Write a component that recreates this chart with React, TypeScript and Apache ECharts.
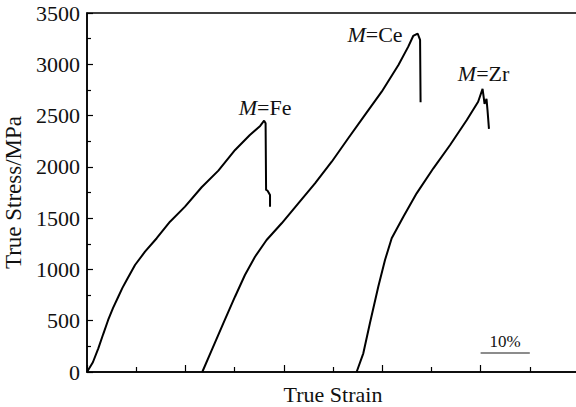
import React, { useEffect, useRef } from "react";
import * as echarts from "echarts";

// True strain (%) and true stress (MPa) for the three alloys; curves are offset along strain.
const feStrain = [0, 1.2, 2.3, 3.3, 4.3, 5.3, 6.36, 7.2, 8.07, 9.76, 11.79, 14.17, 16.87, 19.92, 23.3, 26.7, 30.1, 33.1, 35.2, 36.0, 36.3, 36.4, 36.7, 37.2, 37.2];
const feStress = [0, 95, 231, 370, 507, 625, 734, 820, 897, 1043, 1173, 1304, 1465, 1612, 1801, 1963, 2165, 2311, 2399, 2450, 2425, 1775, 1768, 1726, 1612];

const ceStrain = [23.43, 25.35, 27.7, 30.08, 32.1, 34.15, 36.5, 39.57, 42.95, 46.34, 49.74, 53.1, 56.5, 59.9, 63.3, 65.3, 66.3, 67.2, 67.7, 67.8];
const ceStress = [0, 214, 475, 734, 946, 1124, 1287, 1450, 1645, 1840, 2050, 2279, 2506, 2733, 2993, 3172, 3276, 3300, 3237, 2630];

const zrStrain = [54.8, 56.16, 57.5, 59.2, 60.57, 61.93, 64.3, 67.0, 70.4, 73.8, 77.2, 79.5, 80.4, 80.7, 80.8, 81.2, 81.4, 81.7];
const zrStress = [0, 182, 475, 832, 1092, 1304, 1514, 1742, 1986, 2213, 2457, 2635, 2760, 2652, 2613, 2662, 2555, 2370];

const alloyNames = ["Fe", "Ce", "Zr"];
const yTicks = { min: 0, max: 3500, interval: 500 };
const xRange = { min: 0, max: 100, interval: 20 };

// 10% strain scale bar
const scaleBarStart = 80;
const scaleBarLength = 10;
const scaleBarStress = 190;

const FONT = "Liberation Serif";

function buildSeries(
  name: string,
  strain: number[],
  stress: number[],
  labelCfg: Record<string, unknown>
) {
  return {
    name: `M=${name}`,
    type: "line",
    data: strain.map((s, i) => [s, stress[i]]),
    showSymbol: false,
    symbol: "none",
    smooth: false,
    lineStyle: { color: "#000", width: 2 },
    z: 3,
    // alloy tag placed at the peak stress of the curve
    markPoint: {
      silent: true,
      symbol: "circle",
      symbolSize: 0,
      data: [{ type: "max", valueDim: "y" }],
      label: {
        show: true,
        formatter: `{i|M}{r|=${name}}`,
        rich: {
          i: { fontFamily: FONT, fontSize: 22, fontStyle: "italic", color: "#111" },
          r: { fontFamily: FONT, fontSize: 22, color: "#111" },
        },
        ...labelCfg,
      },
    },
  };
}

export default function App() {
  const ref = useRef<HTMLDivElement>(null);

  useEffect(() => {
    if (!ref.current) return;
    const chart = echarts.init(ref.current, undefined, { renderer: "svg" });

    const option = {
      animation: false,
      backgroundColor: "#ffffff",
      grid: {
        left: 87,
        top: 13,
        width: 492,
        height: 359,
        outerBoundsMode: "none",
        containLabel: false,
        show: true,
        borderColor: "#000",
        borderWidth: 1.5,
        backgroundColor: "transparent",
      },
      xAxis: {
        type: "value",
        min: xRange.min,
        max: xRange.max,
        interval: xRange.interval,
        name: "True Strain",
        nameLocation: "middle",
        nameGap: 11,
        nameTextStyle: {
          fontFamily: FONT,
          fontSize: 22,
          lineHeight: 22,
          color: "#111",
          verticalAlign: "top",
        },
        axisLine: { show: true, lineStyle: { color: "#000", width: 1.5 } },
        axisTick: { show: true, inside: true, length: 7, lineStyle: { color: "#000", width: 1.2 } },
        minorTick: { show: true, splitNumber: 2, length: 5, lineStyle: { color: "#000", width: 1.2 } },
        axisLabel: { show: false },
        splitLine: { show: false },
      },
      yAxis: {
        type: "value",
        min: yTicks.min,
        max: yTicks.max,
        interval: yTicks.interval,
        name: "True Stress/MPa",
        nameLocation: "middle",
        nameRotate: 90,
        nameGap: 58,
        nameTextStyle: { fontFamily: FONT, fontSize: 23, color: "#111" },
        axisLine: { show: true, lineStyle: { color: "#000", width: 1.5 } },
        axisTick: { show: true, inside: true, length: 6, lineStyle: { color: "#000", width: 1.2 } },
        minorTick: { show: true, splitNumber: 2, length: 4, lineStyle: { color: "#000", width: 1.2 } },
        axisLabel: {
          fontFamily: FONT,
          fontSize: 22,
          color: "#111",
          margin: 7,
          formatter: (v: number) => String(v),
        },
        splitLine: { show: false },
      },
      series: [
        buildSeries(alloyNames[0], feStrain, feStress, { position: "top", distance: 2, offset: [1, 0] }),
        buildSeries(alloyNames[1], ceStrain, ceStress, { position: "left", distance: 15, offset: [0, 1] }),
        buildSeries(alloyNames[2], zrStrain, zrStress, { position: "top", distance: 4, offset: [1, 0] }),
        {
          name: "scale",
          type: "line",
          data: [],
          markLine: {
            silent: true,
            symbol: "none",
            lineStyle: { color: "#666", width: 1.5, type: "solid" },
            label: {
              show: true,
              position: "insideMiddleTop",
              formatter: `${scaleBarLength}%`,
              fontFamily: FONT,
              fontSize: 17,
              color: "#111",
              distance: 3,
            },
            data: [
              [
                { coord: [scaleBarStart, scaleBarStress] },
                { coord: [scaleBarStart + scaleBarLength, scaleBarStress] },
              ],
            ],
          },
        },
      ],
    };

    chart.setOption(option as any);
    return () => chart.dispose();
  }, []);

  return (
    <div
      ref={ref}
      style={{ position: "absolute", left: 0, top: 0, width: 576, height: 407, background: "#fff" }}
    />
  );
}
